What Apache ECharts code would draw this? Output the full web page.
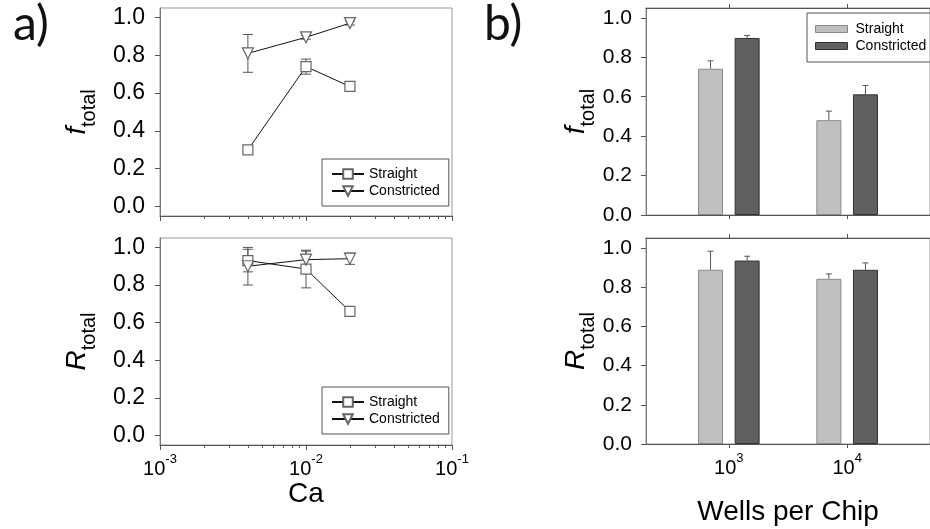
<!DOCTYPE html>
<html>
<head>
<meta charset="utf-8">
<script src="https://cdn.jsdelivr.net/npm/echarts@6/dist/echarts.min.js"></script>
<style>
  html, body { margin: 0; padding: 0; background: #fff; }
  #chart { width: 930px; height: 529px; }
</style>
</head>
<body>
<div id="chart"></div>
<script>
// panel a) : Ca on a log axis
const caValues = [0.004, 0.01, 0.02];
const fStraight = [0.30, 0.74, 0.635];
const fStraightErr = [0.015, 0.04, 0.01];
const fConstricted = [0.81, 0.895, 0.97];
const fConstrictedErr = [0.10, 0.01, 0.01];
const rStraight = [0.93, 0.885, 0.66];
const rStraightErr = [0.06, 0.10, 0.01];
const rConstricted = [0.90, 0.935, 0.94];
const rConstrictedErr = [0.10, 0.045, 0.03];

// panel b) : wells per chip (exponent of 10)
const wellsExp = [3, 4];
const fBarStraight = [0.742, 0.481];
const fBarStraightErr = [0.04, 0.046];
const fBarConstricted = [0.898, 0.612];
const fBarConstrictedErr = [0.013, 0.045];
const rBarStraight = [0.888, 0.842];
const rBarStraightErr = [0.095, 0.025];
const rBarConstricted = [0.935, 0.888];
const rBarConstrictedErr = [0.022, 0.035];

const yTicks = [0, 0.2, 0.4, 0.6, 0.8, 1.0];
const caMinorTicks = [0.002, 0.003, 0.004, 0.005, 0.006, 0.007, 0.008, 0.009,
  0.02, 0.03, 0.04, 0.05, 0.06, 0.07, 0.08, 0.09];

const FONT = "Liberation Sans";
const BAR_W = 25;
const BAR_GAP = 11.6;

const chart = echarts.init(document.getElementById("chart"));

const pairs = (xs, ys) => xs.map((x, i) => [x, ys[i]]);
const triples = (xs, ys, es) => xs.map((x, i) => [x, ys[i], es[i]]);

const yName = (letter) => ({
  name: "{i|" + letter + "}{s|total}",
  nameLocation: "middle",
  nameRotate: 90,
  nameTextStyle: {
    rich: {
      i: { fontSize: 28, fontStyle: "italic", fontFamily: FONT, color: "#000", lineHeight: 36, verticalAlign: "top" },
      s: { fontSize: 20, fontFamily: FONT, color: "#000", lineHeight: 22, verticalAlign: "bottom" },
    },
  },
});

const yAxisBase = (grid, min, fontSize, margin, gap, letter) => ({
  type: "value",
  gridIndex: grid,
  min: min,
  max: 1.05,
  nameGap: gap,
  ...yName(letter),
  axisLine: { show: true, lineStyle: { color: "#777" } },
  axisTick: { show: true, length: 5, customValues: yTicks, lineStyle: { color: "#555" } },
  axisLabel: {
    customValues: yTicks,
    formatter: (v) => v.toFixed(1),
    fontSize: fontSize,
    fontFamily: FONT,
    color: "#000",
    margin: margin,
  },
  splitLine: { show: false },
});

const supRich = {
  n: { fontSize: 20, fontFamily: FONT, color: "#000", lineHeight: 26, verticalAlign: "bottom" },
  s: { fontSize: 13, fontFamily: FONT, color: "#000", lineHeight: 14, verticalAlign: "top" },
};

const caAxis = (grid, showLabel) => ({
  type: "log",
  gridIndex: grid,
  position: "bottom",
  min: 0.001,
  max: 0.1,
  logBase: 10,
  axisLine: { show: true, onZero: false, lineStyle: { color: "#555" } },
  axisTick: { show: true, length: 5, lineStyle: { color: "#555" } },
  axisLabel: {
    show: showLabel,
    margin: 8,
    formatter: (v) => "{n|10}{s|" + Math.round(Math.log10(v)) + "}",
    rich: supRich,
  },
  splitLine: { show: false },
});

const caMinorAxis = (grid) => ({
  type: "value",
  gridIndex: grid,
  position: "bottom",
  min: -3,
  max: -1,
  axisLine: { show: false, onZero: false },
  axisTick: { show: true, length: 3, customValues: caMinorTicks.map((v) => Math.log10(v)), lineStyle: { color: "#555" } },
  axisLabel: { show: false },
  splitLine: { show: false },
});

const wellsAxis = (grid, showLabel) => ({
  type: "value",
  gridIndex: grid,
  min: 2.3,
  max: 4.7,
  axisLine: { show: true, onZero: false, lineStyle: { color: "#555" } },
  axisTick: { show: true, length: 4, customValues: wellsExp, lineStyle: { color: "#555" } },
  axisLabel: {
    show: showLabel,
    customValues: wellsExp,
    margin: 8,
    formatter: (v) => "{n|10}{s|" + v + "}",
    rich: supRich,
  },
  splitLine: { show: false },
});

const lineSeries = (name, x, y, grid, symbol) => ({
  type: "line",
  name: name,
  xAxisIndex: grid * 2,
  yAxisIndex: grid,
  data: pairs(x, y),
  z: 3,
  symbol: symbol,
  symbolRotate: symbol === "triangle" ? 180 : 0,
  symbolSize: symbol === "triangle" ? 11 : 10,
  showSymbol: true,
  lineStyle: { color: "#111", width: 1 },
  itemStyle: { color: "#fff", borderColor: "#666", borderWidth: 1.2 },
  emphasis: { disabled: true },
  animation: false,
});

// symmetric error bars, drawn behind the markers
const errSeries = (x, y, e, grid) => ({
  type: "custom",
  xAxisIndex: grid * 2,
  yAxisIndex: grid,
  z: 1,
  silent: true,
  data: triples(x, y, e),
  renderItem: (params, api) => {
    const hi = api.coord([api.value(0), api.value(1) + api.value(2)]);
    const lo = api.coord([api.value(0), api.value(1) - api.value(2)]);
    const st = { stroke: "#555", lineWidth: 1 };
    return {
      type: "group",
      children: [
        { type: "line", shape: { x1: hi[0], y1: hi[1], x2: lo[0], y2: lo[1] }, style: st },
        { type: "line", shape: { x1: hi[0] - 5, y1: hi[1], x2: hi[0] + 5, y2: hi[1] }, style: st },
        { type: "line", shape: { x1: lo[0] - 5, y1: lo[1], x2: lo[0] + 5, y2: lo[1] }, style: st },
      ],
    };
  },
});

const barSeries = (name, y, grid, fill, border) => ({
  type: "bar",
  name: name,
  xAxisIndex: grid * 2,
  yAxisIndex: grid,
  data: pairs(wellsExp, y),
  barWidth: BAR_W,
  barGap: (BAR_GAP / BAR_W * 100) + "%",
  itemStyle: { color: fill, borderColor: border, borderWidth: 1 },
  emphasis: { disabled: true },
  animation: false,
});

// one-sided (upper) error bars on the bars
const barErrSeries = (y, e, grid, side) => ({
  type: "custom",
  xAxisIndex: grid * 2,
  yAxisIndex: grid,
  z: 1,
  silent: true,
  data: triples(wellsExp, y, e),
  renderItem: (params, api) => {
    const off = side * (BAR_W + BAR_GAP) / 2;
    const top = api.coord([api.value(0), api.value(1)]);
    const hi = api.coord([api.value(0), api.value(1) + api.value(2)]);
    const st = { stroke: "#555", lineWidth: 1 };
    return {
      type: "group",
      children: [
        { type: "line", shape: { x1: hi[0] + off, y1: hi[1], x2: top[0] + off, y2: top[1] }, style: st },
        { type: "line", shape: { x1: hi[0] + off - 3, y1: hi[1], x2: hi[0] + off + 3, y2: hi[1] }, style: st },
      ],
    };
  },
});

const lineLegend = (top) => ({
  data: ["Straight", "Constricted"],
  orient: "vertical",
  left: 322,
  top: top,
  padding: [8, 9, 8, 9],
  itemGap: 3,
  itemWidth: 32,
  itemHeight: 12,
  borderColor: "#555",
  borderWidth: 1,
  selectedMode: false,
  textStyle: { fontSize: 14, fontFamily: FONT, color: "#000" },
});

const option = {
  backgroundColor: "#fff",
  animation: false,
  title: [
    { text: "a)", left: 8, top: -4, textStyle: { fontSize: 48, fontWeight: "normal", fontFamily: "Lato", color: "#111" } },
    { text: "b)", left: 479, top: -4, textStyle: { fontSize: 48, fontWeight: "normal", fontFamily: "Lato", color: "#111" } },
  ],
  grid: [
    { left: 160, top: 8, width: 292, height: 208, show: true, borderColor: "#999", borderWidth: 1 },
    { left: 160, top: 238, width: 292, height: 207, show: true, borderColor: "#999", borderWidth: 1 },
    { left: 646, top: 8, width: 292, height: 207, show: true, borderColor: "#999", borderWidth: 1 },
    { left: 646, top: 238, width: 292, height: 206, show: true, borderColor: "#999", borderWidth: 1 },
  ],
  legend: [
    lineLegend(159),
    lineLegend(387),
    {
      data: [
        { name: "Straight", icon: "rect", itemStyle: { color: "#c0c0c0", borderColor: "#888", borderWidth: 1 } },
        { name: "Constricted", icon: "rect", itemStyle: { color: "#606060", borderColor: "#333", borderWidth: 1 } },
      ],
      orient: "vertical",
      left: 807,
      top: 13,
      padding: [9, 9, 9, 8],
      itemGap: 3,
      itemWidth: 32,
      itemHeight: 7,
      borderColor: "#555",
      borderWidth: 1,
      selectedMode: false,
      textStyle: { fontSize: 14, fontFamily: FONT, color: "#000", padding: [0, 0, 0, 3] },
    },
  ],
  xAxis: [
    caAxis(0, false),
    caMinorAxis(0),
    {
      ...caAxis(1, true),
      name: "Ca",
      nameLocation: "middle",
      nameGap: 31,
      nameTextStyle: { fontSize: 28, fontFamily: FONT, color: "#000" },
    },
    caMinorAxis(1),
    wellsAxis(2, false),
    wellsAxis(2, false),
    {
      ...wellsAxis(3, true),
      name: "Wells per Chip",
      nameLocation: "middle",
      nameGap: 54,
      nameTextStyle: { fontSize: 28, fontFamily: FONT, color: "#000" },
    },
    wellsAxis(3, false),
  ],
  yAxis: [
    yAxisBase(0, -0.05, 23, 15, 61, "f"),
    yAxisBase(1, -0.05, 23, 15, 61, "R"),
    yAxisBase(2, 0, 21, 14, 48, "f"),
    yAxisBase(3, 0, 21, 14, 48, "R"),
  ],
  series: [
    lineSeries("Straight", caValues, fStraight, 0, "rect"),
    lineSeries("Constricted", caValues, fConstricted, 0, "triangle"),
    errSeries(caValues, fStraight, fStraightErr, 0),
    errSeries(caValues, fConstricted, fConstrictedErr, 0),
    lineSeries("Straight", caValues, rStraight, 1, "rect"),
    lineSeries("Constricted", caValues, rConstricted, 1, "triangle"),
    errSeries(caValues, rStraight, rStraightErr, 1),
    errSeries(caValues, rConstricted, rConstrictedErr, 1),
    barSeries("Straight", fBarStraight, 2, "#c0c0c0", "#888"),
    barSeries("Constricted", fBarConstricted, 2, "#606060", "#333"),
    barErrSeries(fBarStraight, fBarStraightErr, 2, -1),
    barErrSeries(fBarConstricted, fBarConstrictedErr, 2, 1),
    barSeries("Straight", rBarStraight, 3, "#c0c0c0", "#888"),
    barSeries("Constricted", rBarConstricted, 3, "#606060", "#333"),
    barErrSeries(rBarStraight, rBarStraightErr, 3, -1),
    barErrSeries(rBarConstricted, rBarConstrictedErr, 3, 1),
  ],
};

chart.setOption(option);
window.addEventListener("resize", () => chart.resize());
</script>
</body>
</html>
